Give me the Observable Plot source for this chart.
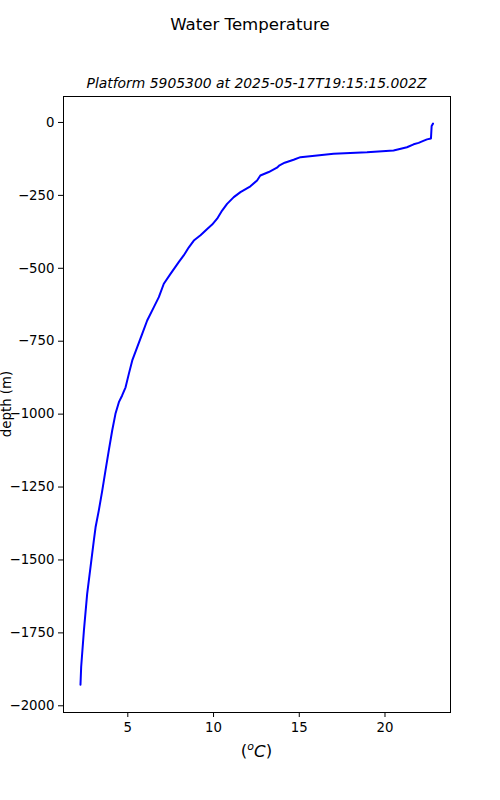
<!DOCTYPE html>
<html>
<head>
<meta charset="utf-8">
<script src="https://cdn.jsdelivr.net/npm/d3@7"></script>
<script src="https://cdn.jsdelivr.net/npm/@observablehq/plot@0.6"></script>
<style>
  html, body { margin: 0; padding: 0; background: #fff; }
  #wrap { position: relative; width: 500px; height: 800px; font-family: "DejaVu Sans", sans-serif; color: #000; }
  .lbl { position: absolute; transform: translate(-50%, -50%); white-space: nowrap; }
</style>
</head>
<body>
<div id="wrap">
  <div class="lbl" style="left:250px; top:24px; font-size:16.6px;">Water Temperature</div>
  <div class="lbl" style="left:256.5px; top:83px; font-size:13.9px; font-style:italic;">Platform 5905300 at 2025-05-17T19:15:15.002Z</div>
  <div class="lbl" style="left:256.5px; top:750px; font-size:16.6px;">(<i><sup style="font-size:11px;">o</sup>C</i>)</div>
  <div class="lbl" style="left:6px; top:404px; font-size:13.3px; transform: translate(-50%, -50%) rotate(-90deg);">depth (m)</div>
</div>
<script>
const depth = [-4, -12, -55, -58, -64, -70, -75, -85, -96, -102, -107, -113, -119, -128, -138, -147, -155, -170, -182, -199, -219, -239, -256, -279, -302, -330, -350, -365, -387, -405, -428, -456, -479, -519, -553, -599, -633, -679, -725, -770, -816, -862, -908, -936, -959, -999, -1056, -1125, -1193, -1262, -1330, -1388, -1433, -1616, -1742, -1867, -1928];
const temperature = [22.8, 22.72, 22.68, 22.45, 22.2, 21.96, 21.67, 21.28, 20.5, 18.95, 17.0, 16.04, 15.07, 14.67, 14.15, 13.85, 13.7, 13.22, 12.73, 12.54, 12.15, 11.57, 11.18, 10.79, 10.5, 10.21, 9.92, 9.63, 9.24, 8.85, 8.56, 8.26, 7.97, 7.49, 7.1, 6.81, 6.52, 6.13, 5.84, 5.55, 5.26, 5.06, 4.87, 4.67, 4.48, 4.28, 4.09, 3.89, 3.70, 3.51, 3.31, 3.12, 3.02, 2.63, 2.44, 2.28, 2.24];
const xTicks = [5, 10, 15, 20];
const yTicks = [0, -250, -500, -750, -1000, -1250, -1500, -1750, -2000];

const data = depth.map((d, i) => ({depth: d, temp: temperature[i]}));

const chart = Plot.plot({
  width: 500,
  height: 800,
  marginLeft: 63,
  marginRight: 50,
  marginTop: 96,
  marginBottom: 88,
  style: {fontFamily: "DejaVu Sans, sans-serif", fontSize: "13.3px", background: "transparent", color: "#000"},
  x: {domain: [1.25, 23.82]},
  y: {domain: [-2023, 89]},
  marks: [
    Plot.axisX({ticks: xTicks, tickFormat: d3.format("d"), tickSize: 5, tickPadding: 5, label: null, stroke: "#000", fill: "#000"}),
    Plot.axisY({ticks: yTicks, tickFormat: d3.format("d"), tickSize: 5, tickPadding: 4, label: null, stroke: "#000", fill: "#000"}),
    Plot.line(data, {x: "temp", y: "depth", stroke: "#0000ff", strokeWidth: 2, sort: null}),
    Plot.frame({stroke: "#000", strokeWidth: 1})
  ]
});
chart.style.position = "absolute";
chart.style.left = "0px";
chart.style.top = "0px";
document.getElementById("wrap").prepend(chart);
</script>
</body>
</html>
